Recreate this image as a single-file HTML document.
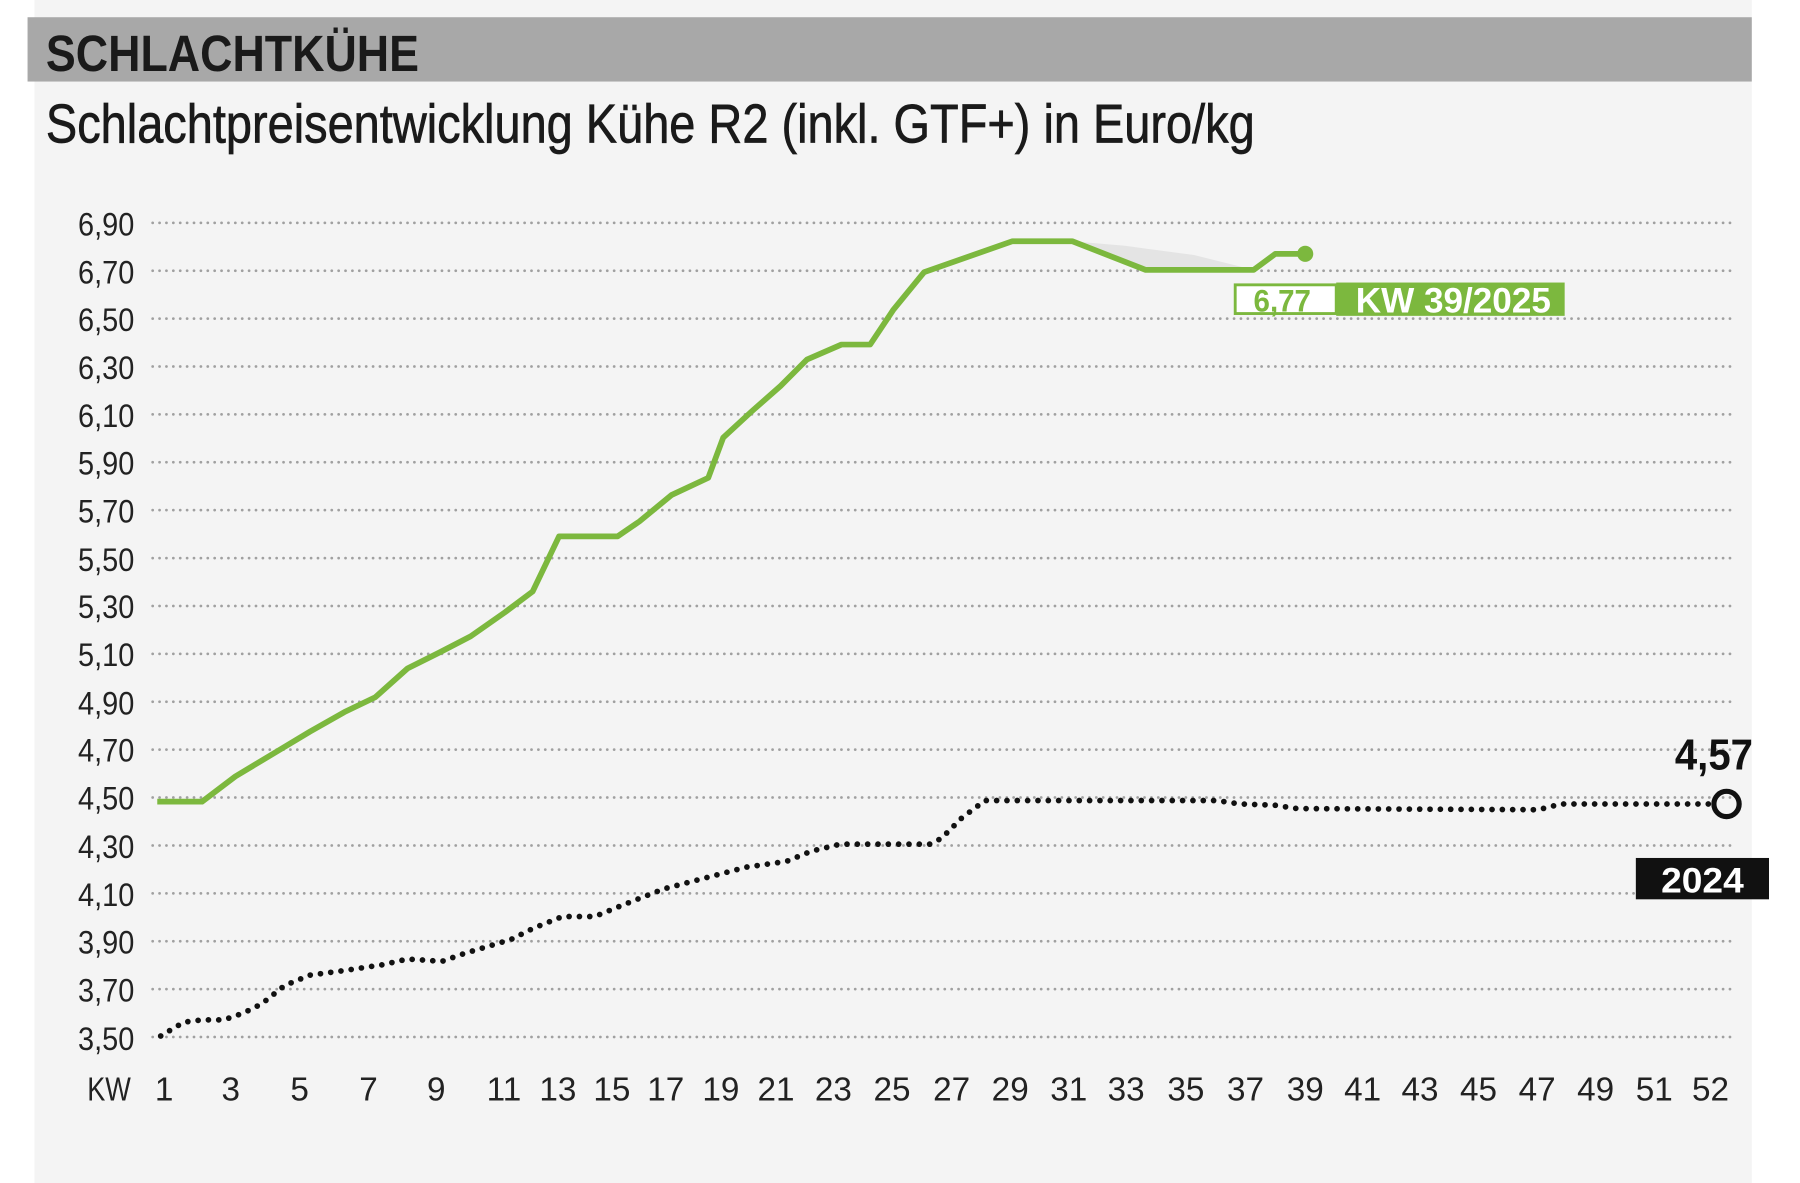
<!DOCTYPE html>
<html><head><meta charset="utf-8"><style>
html,body{margin:0;padding:0;background:#fff;}
svg{display:block}
text{font-family:"Liberation Sans",sans-serif;}
</style></head><body>
<svg width="1800" height="1183" viewBox="0 0 1568 1030" preserveAspectRatio="none" xmlns="http://www.w3.org/2000/svg">
<rect x="30" y="0" width="1496" height="1030" fill="#f4f4f4"/>
<rect x="24" y="15" width="1502" height="56" fill="#a8a8a8"/>
<text x="40" y="62" font-size="44" font-weight="bold" fill="#1a1a1a" textLength="325" lengthAdjust="spacingAndGlyphs">SCHLACHTKÜHE</text>
<text x="40" y="124" font-size="48" fill="#1a1a1a" stroke="#1a1a1a" stroke-width="0.6" textLength="1053" lengthAdjust="spacingAndGlyphs">Schlachtpreisentwicklung Kühe R2 (inkl. GTF+) in Euro/kg</text>
<g stroke="#a0a0a0" stroke-width="2.4" stroke-dasharray="0 6" stroke-linecap="round">
<path d="M133 194H1508M133 235.7H1508M133 277.4H1508M133 319.1H1508M133 360.8H1508M133 402.5H1508M133 444.2H1508M133 485.9H1508M133 527.6H1508M133 569.3H1508M133 611H1508M133 652.7H1508M133 694.4H1508M133 736.1H1508M133 777.8H1508M133 819.5H1508M133 861.2H1508M133 902.9H1508"/>
</g>
<g font-size="28" fill="#222" text-anchor="end">
<text x="117" y="205" textLength="49" lengthAdjust="spacingAndGlyphs">6,90</text>
<text x="117" y="247" textLength="49" lengthAdjust="spacingAndGlyphs">6,70</text>
<text x="117" y="288" textLength="49" lengthAdjust="spacingAndGlyphs">6,50</text>
<text x="117" y="330" textLength="49" lengthAdjust="spacingAndGlyphs">6,30</text>
<text x="117" y="372" textLength="49" lengthAdjust="spacingAndGlyphs">6,10</text>
<text x="117" y="413" textLength="49" lengthAdjust="spacingAndGlyphs">5,90</text>
<text x="117" y="455" textLength="49" lengthAdjust="spacingAndGlyphs">5,70</text>
<text x="117" y="497" textLength="49" lengthAdjust="spacingAndGlyphs">5,50</text>
<text x="117" y="538" textLength="49" lengthAdjust="spacingAndGlyphs">5,30</text>
<text x="117" y="580" textLength="49" lengthAdjust="spacingAndGlyphs">5,10</text>
<text x="117" y="622" textLength="49" lengthAdjust="spacingAndGlyphs">4,90</text>
<text x="117" y="663" textLength="49" lengthAdjust="spacingAndGlyphs">4,70</text>
<text x="117" y="705" textLength="49" lengthAdjust="spacingAndGlyphs">4,50</text>
<text x="117" y="747" textLength="49" lengthAdjust="spacingAndGlyphs">4,30</text>
<text x="117" y="789" textLength="49" lengthAdjust="spacingAndGlyphs">4,10</text>
<text x="117" y="830" textLength="49" lengthAdjust="spacingAndGlyphs">3,90</text>
<text x="117" y="872" textLength="49" lengthAdjust="spacingAndGlyphs">3,70</text>
<text x="117" y="914" textLength="49" lengthAdjust="spacingAndGlyphs">3,50</text>
</g>
<g font-size="29" fill="#222" text-anchor="middle">
<text x="95" y="958" textLength="38" lengthAdjust="spacingAndGlyphs">KW</text>
<text x="143" y="958">1</text><text x="201" y="958">3</text><text x="261" y="958">5</text><text x="321" y="958">7</text><text x="380" y="958">9</text>
<text x="439" y="958">11</text><text x="486" y="958">13</text><text x="533" y="958">15</text><text x="580" y="958">17</text><text x="628" y="958">19</text>
<text x="676" y="958">21</text><text x="726" y="958">23</text><text x="777" y="958">25</text><text x="829" y="958">27</text><text x="880" y="958">29</text>
<text x="931" y="958">31</text><text x="981" y="958">33</text><text x="1033" y="958">35</text><text x="1085" y="958">37</text><text x="1137" y="958">39</text>
<text x="1187" y="958">41</text><text x="1237" y="958">43</text><text x="1288" y="958">45</text><text x="1339" y="958">47</text><text x="1390" y="958">49</text>
<text x="1441" y="958">51</text><text x="1490" y="958">52</text>
</g>
<polygon points="934,210 998,235 1092,235 1040,222 980,214" fill="#e4e4e4"/>
<polyline fill="none" stroke="#7cb83e" stroke-width="5" stroke-linejoin="round" points="137,698 176,698 205,676 240,655 270,637 300,620 327,607 355,582 383,568 410,554 440,533 464,515 487,467 538,467 557,454 585,431 617,416 630,381 655,358 680,336 703,313 733,300 758,300 778,270 805,237 882,210 934,210 998,235 1092,235 1111,221 1136,221"/>
<circle cx="1137" cy="221" r="7" fill="#7cb83e"/>
<rect x="1076" y="248" width="88" height="25" fill="#fff" stroke="#7cb83e" stroke-width="2.5"/>
<text x="1117" y="271" font-size="27" font-weight="bold" fill="#7cb83e" text-anchor="middle" textLength="50" lengthAdjust="spacingAndGlyphs">6,77</text>
<rect x="1164" y="246" width="199" height="29" fill="#7cb83e"/>
<text x="1266" y="272" font-size="31" font-weight="bold" fill="#fff" text-anchor="middle" textLength="170" lengthAdjust="spacingAndGlyphs">KW 39/2025</text>
<polyline fill="none" stroke="#111" stroke-width="5" stroke-dasharray="0 9" stroke-linecap="round" stroke-linejoin="round" points="140,902 160,890 176,888 195,888 212,882 228,874 248,858 270,849 300,845 333,840 355,835 385,837 405,830 445,818 465,808 490,798 518,798 545,787 578,774 612,765 650,755 685,750 707,741 732,735 810,735 820,730 838,712 858,697 1060,697 1080,700 1110,701 1130,704 1340,705 1360,700 1492,700"/>
<circle cx="1504" cy="700" r="11" fill="none" stroke="#111" stroke-width="4.5"/>
<text x="1493" y="670" font-size="38" font-weight="bold" fill="#111" text-anchor="middle" textLength="68" lengthAdjust="spacingAndGlyphs">4,57</text>
<rect x="1425" y="747" width="116" height="36" fill="#111"/>
<text x="1483" y="777" font-size="31" font-weight="bold" fill="#fff" text-anchor="middle" textLength="72" lengthAdjust="spacingAndGlyphs">2024</text>
</svg>
</body></html>
